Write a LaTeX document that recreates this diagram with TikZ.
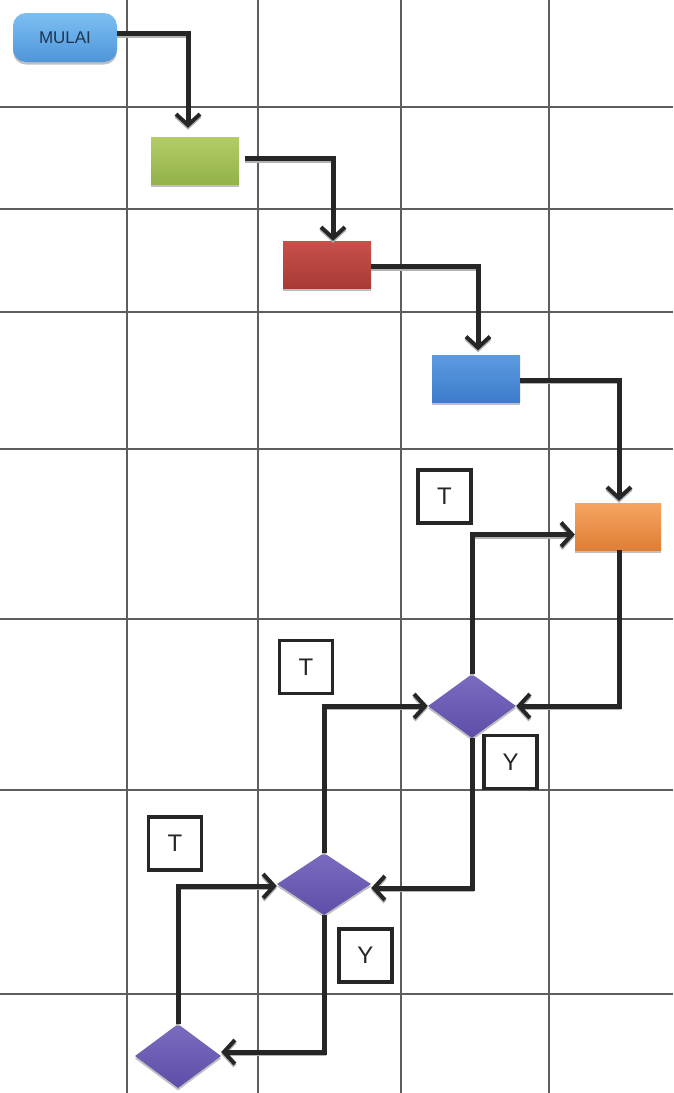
\documentclass[tikz,border=0pt]{standalone}
\usepackage{fontspec}
\setmainfont{Liberation Sans}
\usetikzlibrary{arrows.meta,shapes.geometric,shadows}
\definecolor{gridc}{HTML}{5E5E5E}
\definecolor{linec}{HTML}{262626}
\definecolor{startT}{HTML}{7CC0F2}
\definecolor{startB}{HTML}{4E95DA}
\definecolor{greenT}{HTML}{B3CC66}
\definecolor{greenB}{HTML}{93B24A}
\definecolor{redT}{HTML}{C8504A}
\definecolor{redB}{HTML}{A83A36}
\definecolor{blueT}{HTML}{5C9AE0}
\definecolor{blueB}{HTML}{3C7CCB}
\definecolor{orangeT}{HTML}{F5A561}
\definecolor{orangeB}{HTML}{E07E35}
\definecolor{purpT}{HTML}{7B6BC0}
\definecolor{purpB}{HTML}{5E4EA8}
\definecolor{textc}{HTML}{1F3550}
\tikzset{
  gridline/.style={draw=gridc, line width=1.1pt},
  shad/.style={drop shadow={shadow xshift=0pt, shadow yshift=-2.5pt, opacity=0.5, fill=gray}},
  procbox/.style={rectangle, minimum width=88pt, minimum height=47pt, inner sep=0pt, shad},
  decbox/.style={diamond, minimum width=88pt, minimum height=64pt, inner sep=0pt, shad, top color=purpT, bottom color=purpB},
  lblbox/.style={rectangle, draw=linec, line width=3.8pt, minimum width=53pt, minimum height=53pt, inner sep=0pt, font=\fontsize{24}{27}\selectfont, text=linec},
  flow/.style={draw=linec, line width=5pt, -{Straight Barb[length=11pt,width=24pt,line width=4pt]},
    preaction={draw=gray!60, line width=4.5pt, transform canvas={yshift=-2pt}}}
}
\begin{document}
\begin{tikzpicture}[x=1pt,y=-1pt]
\useasboundingbox (0,0) rectangle (673,1093);
\fill[white] (0,0) rectangle (673,1093);
% grid
\foreach \gx in {127,258,401,549} \draw[gridline] (\gx,0) -- (\gx,1093);
\foreach \gy in {107,209,312,449,619,790,994} \draw[gridline] (0,\gy) -- (673,\gy);
% nodes
\node[rectangle, rounded corners=13pt, minimum width=104pt, minimum height=49pt, inner sep=0pt, shad, top color=startT, bottom color=startB, text=textc, font=\fontsize{17}{20}\selectfont] (start) at (65,37.5) {MULAI};
\node[procbox, top color=greenT, bottom color=greenB] (green) at (195,160.5) {};
\node[procbox, top color=redT, bottom color=redB] (red) at (327,264.5) {};
\node[procbox, top color=blueT, bottom color=blueB] (blue) at (476,379) {};
\node[procbox, minimum width=86pt, top color=orangeT, bottom color=orangeB] (orange) at (618,526.5) {};
\node[decbox] (d1) at (472,706) {};
\node[decbox, minimum width=94pt, minimum height=62pt] (d2) at (324,884) {};
\node[decbox, minimum width=86pt] (d3) at (178,1056) {};
% labels
\node[lblbox] (t1) at (444.5,496.5) {T};
\node[lblbox] (t2) at (306,667) {T};
\node[lblbox] (t3) at (175,843.5) {T};
\node[lblbox] (y1) at (510.5,762) {Y};
\node[lblbox] (y2) at (365.5,955.5) {Y};
% connectors
\draw[flow, shorten >=9pt] ([yshift=4pt]start.east) -| ([xshift=-7pt]green.north);
\draw[flow, shorten <=6pt] ([yshift=2pt]green.east) -| ([xshift=6pt]red.north);
\draw[flow, shorten >=5pt] ([yshift=-2pt]red.east) -| ([xshift=2pt]blue.north);
\draw[flow, shorten >=2pt] ([yshift=-1pt]blue.east) -| ([xshift=1pt]orange.north);
\draw[flow] ([xshift=1pt]orange.south) |- (d1.east);
\draw[flow] (d1.north) |- ([yshift=-8pt]orange.west);
\draw[flow] (d1.south) |- ([yshift=-4pt]d2.east);
\draw[flow] (d2.north) |- (d1.west);
\draw[flow] (d2.south) |- ([yshift=4pt]d3.east);
\draw[flow] (d3.north) |- ([yshift=-2pt]d2.west);
\end{tikzpicture}
\end{document}
